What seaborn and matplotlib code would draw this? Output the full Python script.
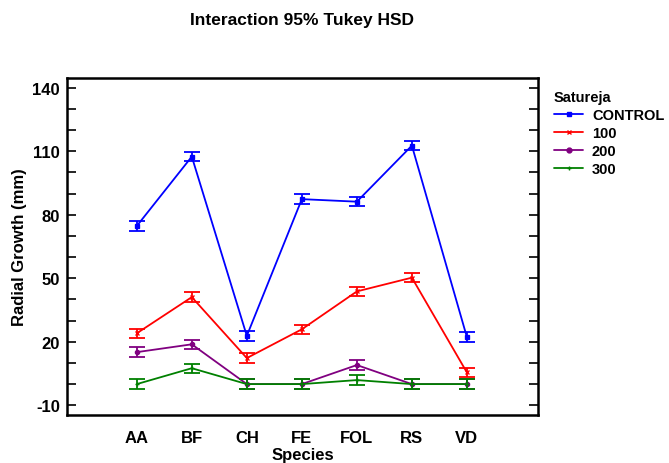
import numpy as np
import pandas as pd
import seaborn as sns
import matplotlib.pyplot as plt
from matplotlib.lines import Line2D
from matplotlib.ticker import MultipleLocator

species = ["AA", "BF", "CH", "FE", "FOL", "RS", "VD"]
levels = ["CONTROL", "100", "200", "300"]
control = [74.7, 107.5, 22.8, 87.4, 86.2, 112.7, 22.2]
dose100 = [24.0, 41.1, 12.3, 25.9, 43.8, 50.3, 5.5]
dose200 = [15.1, 18.8, 0.0, 0.0, 9.0, 0.0, 0.0]
dose300 = [0.0, 7.5, 0.0, 0.0, 1.9, 0.0, 0.0]
hsd_half = 2.2  # Tukey interval half width

colors = ["#0000ff", "#ff0000", "#800080", "#008000"]
markers = ["s", "x", "o", "+"]

series = [control, dose100, dose200, dose300]
df = pd.DataFrame({
    "Species": species * 4,
    "Growth": np.concatenate(series),
    "Satureja": np.repeat(levels, len(species)),
})

sns.set_theme(style="white")
plt.rcParams["font.family"] = ["Liberation Sans", "DejaVu Sans"]
plt.rcParams["font.weight"] = "bold"
plt.rcParams["text.color"] = "black"
plt.rcParams["axes.labelcolor"] = "black"
plt.rcParams["xtick.color"] = "black"
plt.rcParams["ytick.color"] = "black"
plt.rcParams["axes.unicode_minus"] = False

fig = plt.figure(figsize=(6.69, 4.64), dpi=100)
ax = fig.add_axes([0.100, 0.103, 0.704, 0.727])

sns.pointplot(data=df, x="Species", y="Growth", hue="Satureja", order=species,
              hue_order=levels, palette=colors, markers=markers, errorbar=None,
              markersize=3, linewidth=1.3, legend=False, ax=ax)

for vals, c in zip(series, colors):
    ax.errorbar(np.arange(len(species)), vals, yerr=hsd_half, fmt="none",
                ecolor=c, elinewidth=1.3, capsize=5.8, capthick=1.3)

ax.set_xlim(-1.27, 7.29)
ax.set_ylim(-14.7, 144.7)
ax.set_yticks([-10, 20, 50, 80, 110, 140])
ax.yaxis.set_minor_locator(MultipleLocator(10))
ax.tick_params(axis="y", which="both", direction="in", length=6.5, width=1.2,
               left=True, right=True, labelsize=12, pad=5)
ax.tick_params(axis="x", length=0, labelsize=12, pad=11)
for s in ax.spines.values():
    s.set_linewidth(1.8)
    s.set_color("black")
for t in ax.get_xticklabels() + ax.get_yticklabels():
    t.set_fontweight("bold")

ax.set_xlabel("Species", fontsize=12, fontweight="bold", labelpad=1)
ax.set_ylabel("Radial Growth (mm)", fontsize=12, fontweight="bold", labelpad=4)
fig.text(0.452, 1 - 20 / 464, "Interaction 95% Tukey HSD", ha="center", va="center",
         fontsize=12.5, fontweight="bold")

handles = [Line2D([0], [0], color=c, marker=m, markersize=3.5, linewidth=1.3)
           for c, m in zip(colors, markers)]
leg = ax.legend(handles, levels, title="Satureja", loc="upper left",
                bbox_to_anchor=(1.022, 0.98), frameon=False, handlelength=2.0,
                labelspacing=0.26, handletextpad=0.6, borderaxespad=0,
                prop={"size": 10.5, "weight": "bold"})
leg.get_title().set_fontweight("bold")
leg.get_title().set_fontsize(10.5)
leg._legend_box.align = "left"

fig.savefig("out.png", dpi=100)
